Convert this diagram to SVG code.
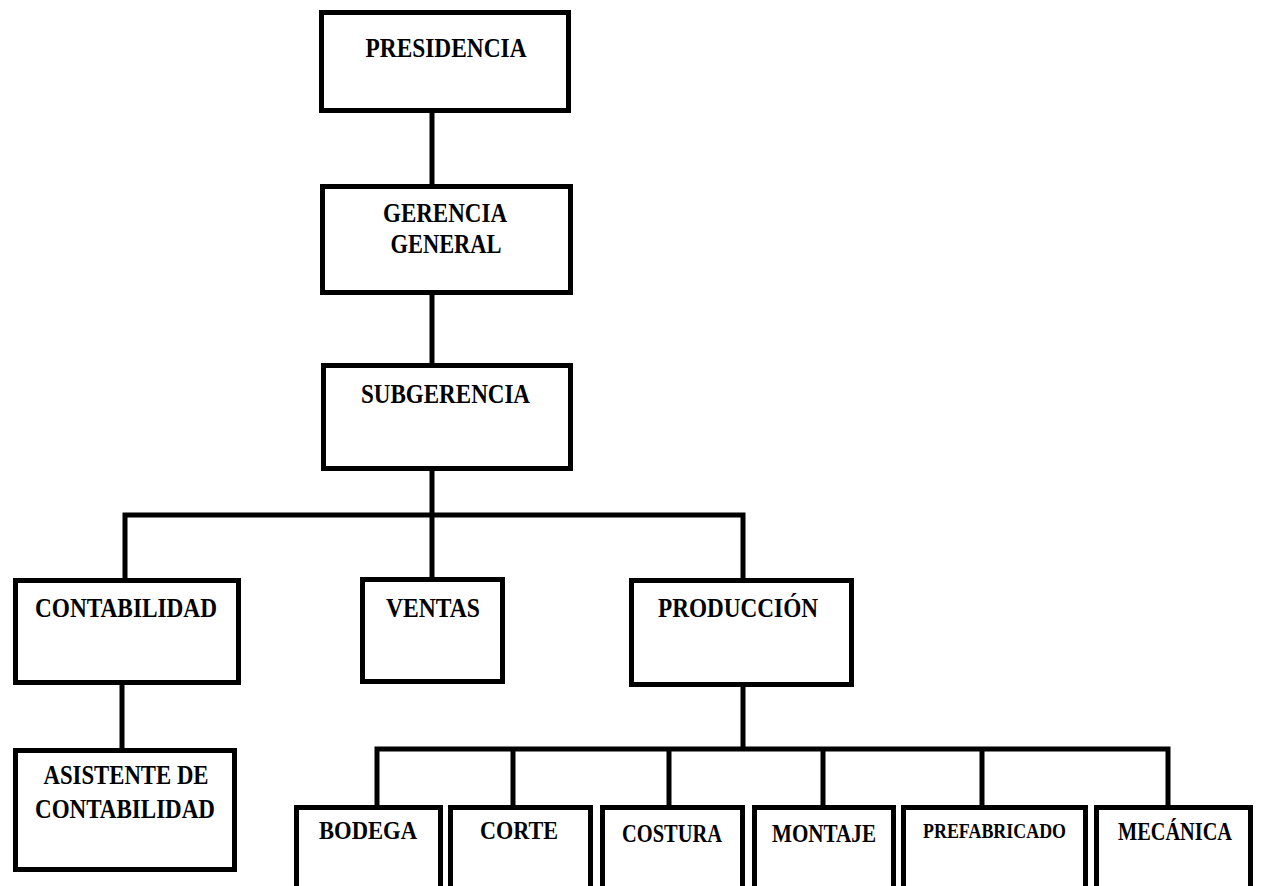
<svg xmlns="http://www.w3.org/2000/svg" width="1264" height="886" viewBox="0 0 1264 886">
  <style>
    .box { fill: #ffffff; stroke: #000000; stroke-width: 5; }
    .link { fill: none; stroke: #000000; stroke-width: 5; stroke-linejoin: miter; stroke-linecap: butt; }
    .lbl { font-family: "Liberation Serif", "Times New Roman", serif; font-weight: bold; font-size: 23px; fill: #000000; text-anchor: middle; }
    .sm { font-size: 21px; }
    .xs { font-size: 18px; }
  </style>
  <rect width="1264" height="886" fill="#ffffff"/>

  <g id="connectors">
    <path class="link" d="M432 113 V184"/>
    <path class="link" d="M432 295 V363"/>
    <path class="link" d="M432 471 V577"/>
    <path class="link" d="M125 578 V515 H743 V578"/>
    <path class="link" d="M122 685 V748"/>
    <path class="link" d="M743 687 V749"/>
    <path class="link" d="M377 805 V749 H1168 V805"/>
    <path class="link" d="M513 749 V805"/>
    <path class="link" d="M669 749 V805"/>
    <path class="link" d="M823 749 V805"/>
    <path class="link" d="M982 749 V805"/>
  </g>

  <g id="presidencia">
    <rect class="box" x="321.5" y="12.5" width="247" height="98"/>
    <text class="lbl" transform="translate(446,57) scale(1,1.15)" textLength="161" lengthAdjust="spacingAndGlyphs">PRESIDENCIA</text>
  </g>

  <g id="gerencia-general">
    <rect class="box" x="322.5" y="186.5" width="248" height="106"/>
    <text class="lbl" transform="translate(445,222) scale(1,1.15)" textLength="124" lengthAdjust="spacingAndGlyphs">GERENCIA</text>
    <text class="lbl" transform="translate(446,253) scale(1,1.15)" textLength="111" lengthAdjust="spacingAndGlyphs">GENERAL</text>
  </g>

  <g id="subgerencia">
    <rect class="box" x="323.5" y="365.5" width="247" height="103"/>
    <text class="lbl" transform="translate(445.5,403) scale(1,1.15)" textLength="169" lengthAdjust="spacingAndGlyphs">SUBGERENCIA</text>
  </g>

  <g id="contabilidad">
    <rect class="box" x="15.5" y="580.5" width="223" height="102"/>
    <text class="lbl" transform="translate(126,617) scale(1,1.15)" textLength="182" lengthAdjust="spacingAndGlyphs">CONTABILIDAD</text>
  </g>

  <g id="ventas">
    <rect class="box" x="362.5" y="579.5" width="140" height="102"/>
    <text class="lbl" transform="translate(433,617) scale(1,1.15)" textLength="94" lengthAdjust="spacingAndGlyphs">VENTAS</text>
  </g>

  <g id="produccion">
    <rect class="box" x="631.5" y="580.5" width="220" height="104"/>
    <text class="lbl" transform="translate(738,617) scale(1,1.15)" textLength="160" lengthAdjust="spacingAndGlyphs">PRODUCCIÓN</text>
  </g>

  <g id="asistente-contabilidad">
    <rect class="box" x="15.5" y="750.5" width="219" height="119"/>
    <text class="lbl" transform="translate(126,784) scale(1,1.15)" textLength="165" lengthAdjust="spacingAndGlyphs">ASISTENTE DE</text>
    <text class="lbl" transform="translate(125,818) scale(1,1.15)" textLength="180" lengthAdjust="spacingAndGlyphs">CONTABILIDAD</text>
  </g>

  <g id="bodega">
    <rect class="box" x="296.5" y="807.5" width="144" height="95"/>
    <text class="lbl sm" transform="translate(368,839) scale(1,1.15)" textLength="98" lengthAdjust="spacingAndGlyphs">BODEGA</text>
  </g>

  <g id="corte">
    <rect class="box" x="450.5" y="807.5" width="140" height="95"/>
    <text class="lbl sm" transform="translate(519,839) scale(1,1.15)" textLength="78" lengthAdjust="spacingAndGlyphs">CORTE</text>
  </g>

  <g id="costura">
    <rect class="box" x="602.5" y="807.5" width="140" height="95"/>
    <text class="lbl sm" transform="translate(672,842) scale(1,1.15)" textLength="100" lengthAdjust="spacingAndGlyphs">COSTURA</text>
  </g>

  <g id="montaje">
    <rect class="box" x="754.5" y="807.5" width="139" height="95"/>
    <text class="lbl sm" transform="translate(824,842) scale(1,1.15)" textLength="104" lengthAdjust="spacingAndGlyphs">MONTAJE</text>
  </g>

  <g id="prefabricado">
    <rect class="box" x="903.5" y="807.5" width="182" height="95"/>
    <text class="lbl xs" transform="translate(994.5,838) scale(1,1.15)" textLength="143" lengthAdjust="spacingAndGlyphs">PREFABRICADO</text>
  </g>

  <g id="mecanica">
    <rect class="box" x="1096.5" y="807.5" width="154" height="95"/>
    <text class="lbl sm" transform="translate(1175,840) scale(1,1.15)" textLength="114" lengthAdjust="spacingAndGlyphs">MECÁNICA</text>
  </g>
</svg>
